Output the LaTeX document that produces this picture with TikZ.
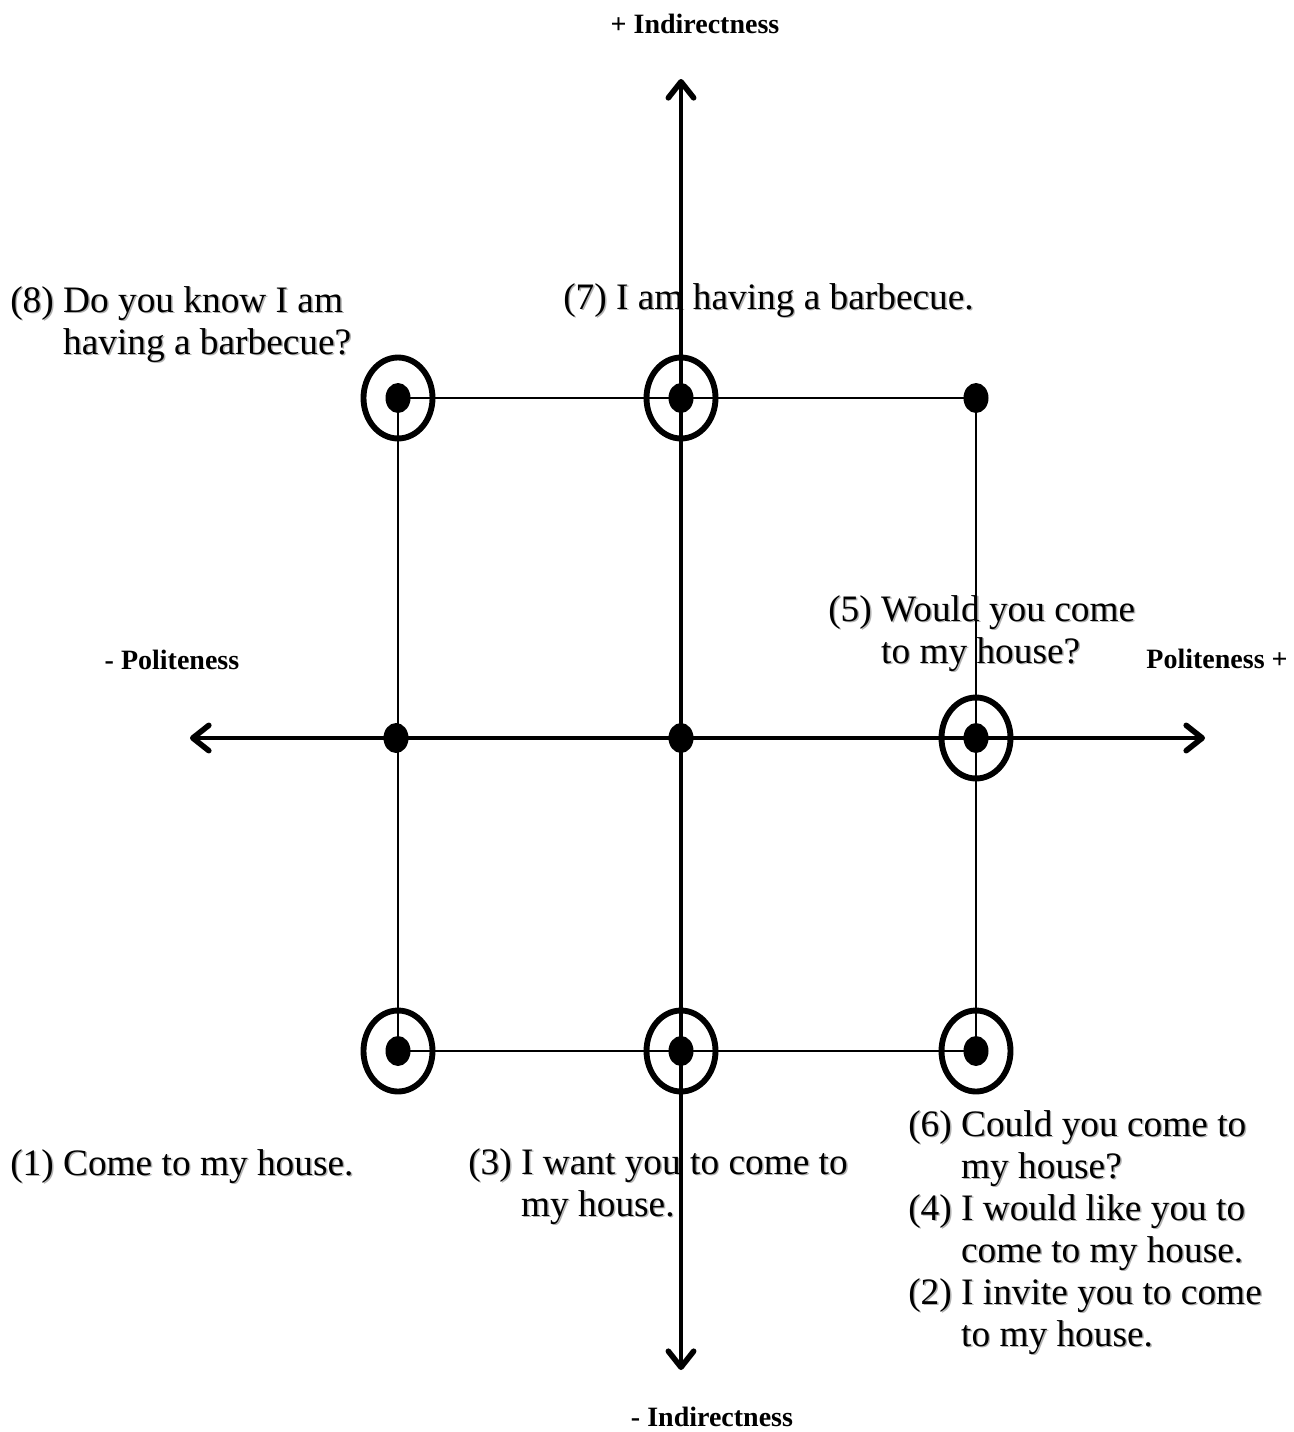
\documentclass[tikz,border=0pt]{standalone}
\usepackage{fontspec}
\setmainfont{Liberation Serif}
\usetikzlibrary{arrows.meta}
\newcommand\shd[1]{\rlap{\kern1.1pt\raisebox{-1.1pt}{\color{black!30}#1}}#1}
\newcommand\num[1]{\shd{(#1)}\kern7pt}
\tikzset{
  lbl/.style={anchor=base west,inner sep=0pt,font=\fontsize{28}{31.5}\selectfont},
  axlbl/.style={anchor=base,inner sep=0pt,font=\fontsize{21}{24}\selectfont\bfseries},
  barb/.tip={Straight Barb[length=12pt,width=19pt,line width=4.2pt,line cap=round,line join=round]},
  axis/.style={line width=3.3pt,barb-barb},
  thin/.style={line width=1.1pt},
  ring/.style={line width=4.4pt},
}
\begin{document}
\begin{tikzpicture}[x=0.75pt,y=-0.75pt]
\useasboundingbox (0,0) rectangle (1293,1432);
% labels
\node[lbl] (t8) at (10,312) {\begin{tabular}[t]{@{}l@{}l@{}}\num{8}&\shd{Do you know I am}\\&\shd{having a barbecue?}\end{tabular}};
\node[lbl] (t7) at (563,309) {\shd{(7) I am having a barbecue.}};
\node[lbl] (t5) at (828,621) {\begin{tabular}[t]{@{}l@{}l@{}}\num{5}&\shd{Would you come}\\&\shd{to my house?}\end{tabular}};
\node[lbl] (t1) at (10,1175) {\shd{(1) Come to my house.}};
\node[lbl] (t3) at (468,1174) {\begin{tabular}[t]{@{}l@{}l@{}}\num{3}&\shd{I want you to come to}\\&\shd{my house.}\end{tabular}};
\node[lbl] (t6) at (908,1136) {\begin{tabular}[t]{@{}l@{}l@{}}\num{6}&\shd{Could you come to}\\&\shd{my house?}\\
\num{4}&\shd{I would like you to}\\&\shd{come to my house.}\\
\num{2}&\shd{I invite you to come}\\&\shd{to my house.}\end{tabular}};
\node[axlbl] (ytop) at (695,33) {+ Indirectness};
\node[axlbl] (ybot) at (712,1426) {- Indirectness};
\node[axlbl] (xl) at (172,669) {- Politeness};
\node[axlbl] (xr) at (1217,668) {Politeness +};
% grid points
\coordinate (a1) at (398,398);
\coordinate (a2) at (681,398);
\coordinate (a3) at (976,398);
\coordinate (b1) at (396,738);
\coordinate (b2) at (681,738);
\coordinate (b3) at (976,738);
\coordinate (c1) at (398,1051);
\coordinate (c2) at (681,1051);
\coordinate (c3) at (976,1051);
\coordinate (xa) at (190,738);
\coordinate (xb) at (1205,738);
\coordinate (ya) at (681,1370);
\coordinate (yb) at (681,79);
% thin square
\draw[thin] (a1) -- (a3) -- (c3) -- (c1) -- cycle;
% axes
\draw[axis] (xa) -- (xb);
\draw[axis] (ya) -- (yb);
% rings
\foreach \p in {a1,a2,b3,c1,c2,c3}
  \draw[ring] (\p) ellipse [x radius=34.5,y radius=40.5];
% dots
\foreach \p in {a1,a2,a3,b1,b2,b3,c1,c2,c3}
  \fill (\p) ellipse [x radius=12.5,y radius=15];
\end{tikzpicture}
\end{document}
